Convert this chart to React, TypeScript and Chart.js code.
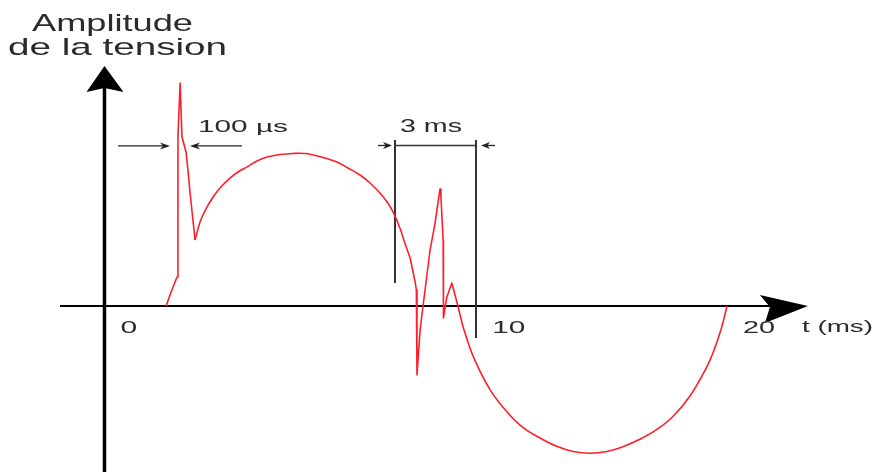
import { useEffect, useRef } from "react";
import { Chart, registerables } from "chart.js";

Chart.register(...registerables);

// Time (ms) and normalised voltage amplitude
const timeMs = [
  1.98, 2.14, 2.33, 2.36, 2.43, 2.49, 2.62, 2.68, 2.75, 2.91,
  3.07, 3.26, 3.49, 3.74, 4.03, 4.29, 4.58, 4.9, 5.22, 5.64,
  6.06, 6.44, 6.7, 7.08, 7.47, 7.82, 8.21, 8.53, 8.85, 9.08,
  9.27, 9.49, 9.65, 9.82, 9.98, 10.02, 10.04, 10.14, 10.23, 10.46,
  10.62, 10.75, 10.78, 10.81, 10.88, 10.89, 11.0, 11.16, 11.33, 11.52,
  11.85, 12.39, 12.92, 13.45, 13.99, 14.53, 15.05, 15.6, 16.14, 16.66,
  17.2, 17.75, 18.27, 18.81, 19.36, 19.58, 19.78, 19.9, 20.0,
];
const amplitude = [
  0, 0.093, 0.193, 1.127, 1.487, 1.127, 1.027, 0.907, 0.753, 0.44,
  0.56, 0.647, 0.727, 0.793, 0.853, 0.893, 0.927, 0.967, 0.993, 1.01,
  1.017, 1.017, 1.007, 0.987, 0.96, 0.92, 0.873, 0.82, 0.753, 0.693,
  0.627, 0.52, 0.42, 0.32, 0.16, 0.107, -0.46, -0.16, -0.007, 0.373,
  0.553, 0.74, 0.78, 0.727, 0.44, -0.08, 0.06, 0.153, 0.02, -0.14,
  -0.338, -0.56, -0.703, -0.811, -0.88, -0.936, -0.97, -0.982, -0.97, -0.938,
  -0.889, -0.823, -0.735, -0.6, -0.402, -0.296, -0.176, -0.086, 0,
];
// index ranges of the trace: transients are drawn straight, the mains wave smooth
const segmentStarts = [0, 9, 33, 49];
const segmentEnds = [9, 33, 49, 68];
const segmentSmooth = [false, true, false, true];

const tickValues = [0, 11.94, 20];
const tickLabels = ["0", "10", "20"];
const yTitleLines = ["Amplitude", "de la tension"];
const xTitle = "t (ms)";
const shortDurationLabel = "100 µs";
const longDurationLabel = "3 ms";

// Annotation geometry (data units)
const X_MIN = -3.357;
const X_MAX = 24.787;
const Y_MIN = -1.107;
const Y_MAX = 2.04;
const X_AXIS_START = -1.43;
const X_AXIS_TIP = 22.6;
const Y_AXIS_TIP = 1.6;

const SHORT_BRACKET = { y: 1.067, leftFrom: 0.434, leftTip: 2.104, rightFrom: 4.418, rightTip: 2.747 };
const LONG_BRACKET = {
  left: 9.333,
  right: 11.936,
  top: 1.107,
  leftBottom: 0.153,
  rightBottom: -0.213,
  y: 1.07,
  leftFrom: 8.787,
  leftTip: 9.237,
  rightFrom: 12.546,
  rightTip: 12.096,
};

const FONT = '"Liberation Sans", Arial, sans-serif';
const TEXT_COLOR = "#2b2b2b";
const CURVE_COLOR = "#ff1f2a";

function stretchedText(
  ctx: CanvasRenderingContext2D,
  text: string,
  left: number,
  baseline: number,
  size: number,
  width: number
) {
  ctx.save();
  ctx.font = `${size}px ${FONT}`;
  const w = ctx.measureText(text).width;
  ctx.translate(left, baseline);
  ctx.scale(width / w, 1);
  ctx.fillStyle = TEXT_COLOR;
  ctx.textAlign = "left";
  ctx.textBaseline = "alphabetic";
  ctx.fillText(text, 0, 0);
  ctx.restore();
}

function smallArrow(
  ctx: CanvasRenderingContext2D,
  fromX: number,
  tipX: number,
  y: number,
  headLen: number,
  halfW: number,
  color: string
) {
  const dir = tipX > fromX ? 1 : -1;
  ctx.save();
  ctx.strokeStyle = color;
  ctx.fillStyle = color;
  ctx.lineWidth = 1.3;
  ctx.beginPath();
  ctx.moveTo(fromX, y);
  ctx.lineTo(tipX - dir * headLen * 0.6, y);
  ctx.stroke();
  ctx.beginPath();
  ctx.moveTo(tipX, y);
  ctx.lineTo(tipX - dir * headLen, y - halfW);
  ctx.lineTo(tipX - dir * headLen * 0.7, y);
  ctx.lineTo(tipX - dir * headLen, y + halfW);
  ctx.closePath();
  ctx.fill();
  ctx.restore();
}

const diagramPlugin = {
  id: "diagram",
  beforeDatasetsDraw(chart: any) {
    const ctx: CanvasRenderingContext2D = chart.ctx;
    const xs = chart.scales.x;
    const ys = chart.scales.y;
    const px = (v: number) => xs.getPixelForValue(v);
    const py = (v: number) => ys.getPixelForValue(v);

    const ax = px(0);
    const ay = py(0);

    ctx.save();
    // X axis
    ctx.strokeStyle = "#000";
    ctx.lineWidth = 2;
    ctx.beginPath();
    ctx.moveTo(px(X_AXIS_START), ay);
    ctx.lineTo(px(X_AXIS_TIP) - 30, ay);
    ctx.stroke();
    const tx = px(X_AXIS_TIP);
    ctx.fillStyle = "#000";
    ctx.beginPath();
    ctx.moveTo(tx, ay);
    ctx.lineTo(tx - 48, ay - 11);
    ctx.lineTo(tx - 38, ay + 1);
    ctx.lineTo(tx - 43, ay + 17);
    ctx.closePath();
    ctx.fill();

    // Y axis
    const tipY = py(Y_AXIS_TIP);
    ctx.lineWidth = 3.5;
    ctx.beginPath();
    ctx.moveTo(ax, chart.height);
    ctx.lineTo(ax, tipY + 20);
    ctx.stroke();
    ctx.beginPath();
    ctx.moveTo(ax, tipY);
    ctx.lineTo(ax - 18, tipY + 26);
    ctx.lineTo(ax, tipY + 22);
    ctx.lineTo(ax + 19, tipY + 26);
    ctx.closePath();
    ctx.fill();

    // 3 ms bracket
    ctx.strokeStyle = "#333";
    ctx.lineWidth = 2;
    ctx.beginPath();
    ctx.moveTo(px(LONG_BRACKET.left), py(LONG_BRACKET.top));
    ctx.lineTo(px(LONG_BRACKET.left), py(LONG_BRACKET.leftBottom));
    ctx.moveTo(px(LONG_BRACKET.right), py(LONG_BRACKET.top));
    ctx.lineTo(px(LONG_BRACKET.right), py(LONG_BRACKET.rightBottom));
    ctx.stroke();
    ctx.lineWidth = 1.5;
    ctx.beginPath();
    ctx.moveTo(px(LONG_BRACKET.left), py(LONG_BRACKET.y));
    ctx.lineTo(px(LONG_BRACKET.right), py(LONG_BRACKET.y));
    ctx.stroke();
    smallArrow(ctx, px(LONG_BRACKET.leftFrom), px(LONG_BRACKET.leftTip), py(LONG_BRACKET.y), 9, 3.5, "#222");
    smallArrow(ctx, px(LONG_BRACKET.rightFrom), px(LONG_BRACKET.rightTip), py(LONG_BRACKET.y), 9, 3.5, "#222");

    // 100 µs bracket
    smallArrow(ctx, px(SHORT_BRACKET.leftFrom), px(SHORT_BRACKET.leftTip), py(SHORT_BRACKET.y), 10, 3.5, "#222");
    smallArrow(ctx, px(SHORT_BRACKET.rightFrom), px(SHORT_BRACKET.rightTip), py(SHORT_BRACKET.y), 10, 3.5, "#222");
    ctx.restore();
  },
  afterDatasetsDraw(chart: any) {
    const ctx: CanvasRenderingContext2D = chart.ctx;
    const xs = chart.scales.x;
    const ys = chart.scales.y;
    const ay = ys.getPixelForValue(0);

    // Y title
    stretchedText(ctx, yTitleLines[0], 32, 31, 24, 161);
    stretchedText(ctx, yTitleLines[1], 8, 55, 24, 219);

    // tick labels
    const tickWidths = [16.7, 33, 32];
    tickLabels.forEach((lab, i) => {
      const x = xs.getPixelForValue(tickValues[i]) + 16;
      stretchedText(ctx, lab, x, ay + 27, 16, tickWidths[i]);
    });
    // x title
    stretchedText(ctx, xTitle, 802, ay + 26, 16, 71);

    // bracket labels
    stretchedText(ctx, shortDurationLabel, 198, 132, 17, 90);
    stretchedText(ctx, longDurationLabel, 400, 132, 18, 62);
  },
};

export default function App() {
  const canvasRef = useRef<HTMLCanvasElement | null>(null);

  useEffect(() => {
    const canvas = canvasRef.current;
    if (!canvas) return;
    const datasets = segmentStarts.map((s, k) => {
      const pts = [];
      for (let i = s; i <= segmentEnds[k]; i++) pts.push({ x: timeMs[i], y: amplitude[i] });
      return {
        data: pts,
        borderColor: CURVE_COLOR,
        borderWidth: 1.6,
        pointRadius: 0,
        tension: segmentSmooth[k] ? 0.4 : 0,
        borderJoinStyle: "round",
        fill: false,
      };
    });
    const chart = new Chart(canvas, {
      type: "line",
      data: { datasets },
      options: {
        animation: false,
        responsive: false,
        maintainAspectRatio: false,
        devicePixelRatio: 1,
        events: [],
        layout: { padding: 0 },
        plugins: { legend: { display: false }, tooltip: { enabled: false } },
        scales: {
          x: { type: "linear", display: false, min: X_MIN, max: X_MAX },
          y: { type: "linear", display: false, min: Y_MIN, max: Y_MAX },
        },
      },
      plugins: [diagramPlugin],
    } as any);
    return () => chart.destroy();
  }, []);

  return (
    <div style={{ position: "absolute", left: 0, top: 0, width: 876, height: 472, background: "#fff" }}>
      <canvas ref={canvasRef} width={876} height={472} style={{ display: "block" }} />
    </div>
  );
}
